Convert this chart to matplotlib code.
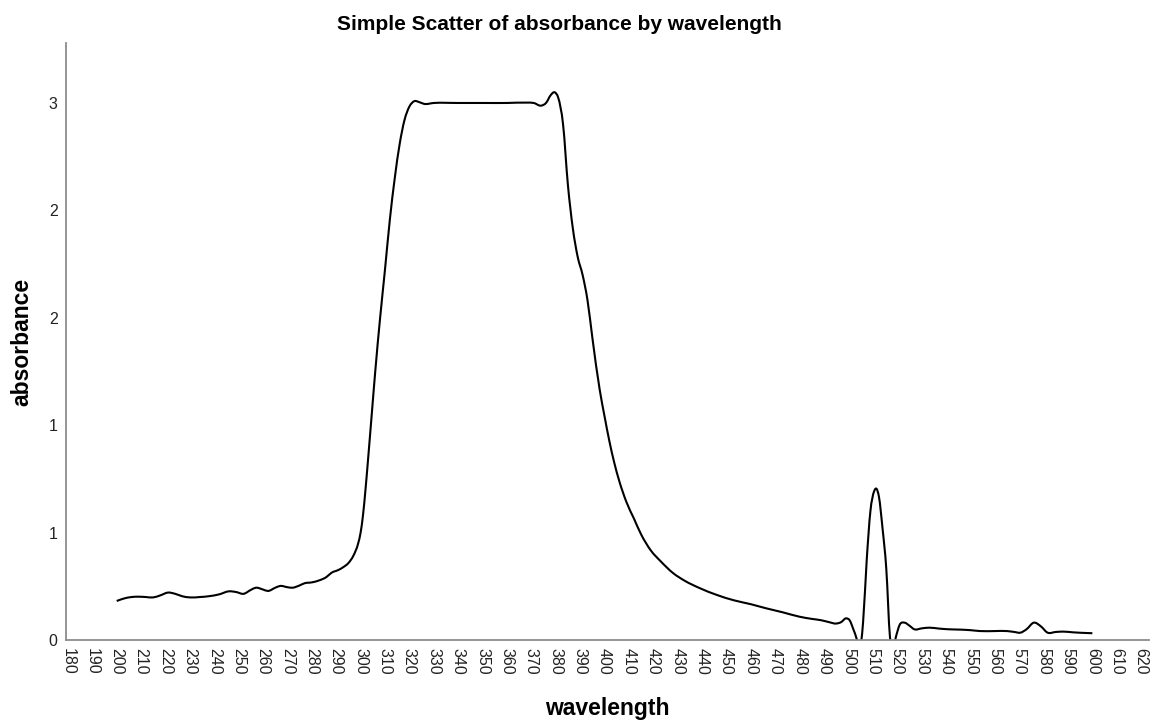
import matplotlib.pyplot as plt
from matplotlib.path import Path
from matplotlib.patches import PathPatch
import numpy as np

plt.rcParams['font.family'] = ['Liberation Sans', 'DejaVu Sans']

# absorbance spectrum
wavelength = [200, 203, 206, 209, 212, 215, 218, 221, 224, 227, 230, 234, 238, 242,
              246, 249, 252, 255, 257, 260, 262, 265, 267, 270, 272, 275, 277, 280,
              283, 286, 288, 291, 293, 295, 297, 299, 300, 301, 302, 303, 304.5, 306,
              308, 310, 312, 314, 316, 318, 320, 322, 324, 326, 330, 340, 350, 360,
              368, 371, 374, 376, 378, 379.5, 381, 383, 385, 387, 389, 391, 393, 395,
              398, 400, 402, 404, 406, 409, 412, 415, 419, 423, 428, 433, 439, 446,
              453, 460, 466, 473, 480, 485, 489, 492, 495, 497, 499, 500.5, 502,
              503.5, 504.5, 506, 507.5, 509, 510.5, 511.5, 512.5, 514, 515.5, 517,
              518, 519.5, 521, 523, 525, 527, 530, 533, 537, 541, 546, 550, 554, 560,
              565, 568, 570.5, 573, 576, 579, 581.5, 585, 588, 592, 596, 600]
absorbance = [0.218, 0.232, 0.240, 0.242, 0.240, 0.238, 0.250, 0.265, 0.258, 0.244,
              0.238, 0.240, 0.245, 0.255, 0.272, 0.268, 0.258, 0.280, 0.292, 0.282,
              0.274, 0.292, 0.302, 0.295, 0.292, 0.305, 0.317, 0.322, 0.333, 0.352,
              0.375, 0.392, 0.408, 0.430, 0.470, 0.540, 0.600, 0.700, 0.840, 1.000,
              1.250, 1.500, 1.800, 2.070, 2.350, 2.580, 2.770, 2.905, 2.980, 3.010,
              3.005, 2.995, 3.000, 3.000, 3.000, 3.000, 3.002, 3.000, 2.985, 3.000,
              3.045, 3.060, 3.030, 2.880, 2.540, 2.300, 2.140, 2.040, 1.900, 1.690,
              1.400, 1.250, 1.110, 0.990, 0.890, 0.770, 0.680, 0.590, 0.500, 0.440,
              0.375, 0.330, 0.290, 0.252, 0.222, 0.200, 0.178, 0.155, 0.130, 0.118,
              0.110, 0.100, 0.092, 0.100, 0.121, 0.110, 0.060, 0.000, -0.060, 0.100,
              0.450, 0.720, 0.830, 0.845, 0.800, 0.620, 0.400, 0.020, -0.060, 0.020,
              0.085, 0.097, 0.080, 0.060, 0.065, 0.069, 0.064, 0.060, 0.058, 0.055,
              0.050, 0.050, 0.050, 0.045, 0.041, 0.060, 0.097, 0.075, 0.042, 0.045,
              0.047, 0.043, 0.040, 0.038]

x_ticks = np.arange(180, 621, 10)
y_ticks = [0, 0.6, 1.2, 1.8, 2.4, 3.0]


def spline_path(x, y):
    # cubic Hermite through every point, written as Bezier segments
    x = np.asarray(x, float)
    y = np.asarray(y, float)
    h = np.diff(x)
    d = np.diff(y) / h
    m = np.empty_like(y)
    m[0], m[-1] = d[0], d[-1]
    m[1:-1] = (d[:-1] * h[1:] + d[1:] * h[:-1]) / (h[:-1] + h[1:])
    verts = [(x[0], y[0])]
    codes = [Path.MOVETO]
    for i in range(len(h)):
        verts += [(x[i] + h[i] / 3, y[i] + m[i] * h[i] / 3),
                  (x[i + 1] - h[i] / 3, y[i + 1] - m[i + 1] * h[i] / 3),
                  (x[i + 1], y[i + 1])]
        codes += [Path.CURVE4] * 3
    return Path(verts, codes)


fig = plt.figure(figsize=(11.53, 7.24), dpi=100)
ax = fig.add_axes([0.0572, 0.116, 0.9393, 0.8246])

curve = PathPatch(spline_path(wavelength, absorbance), facecolor='none',
                  edgecolor='black', lw=1.5, joinstyle='round')
ax.add_patch(curve)

ax.set_xlim(179.2, 623.2)
ax.set_ylim(0, 3.335)

ax.set_xticks(x_ticks)
ax.set_xticklabels([str(t) for t in x_ticks], rotation=-90, fontsize=11.5)
ax.set_yticks(y_ticks)
ax.set_yticklabels([f"{v:.0f}" for v in y_ticks], fontsize=11.5)
ax.tick_params(length=0, pad=6, colors='#222222')

for side in ['top', 'right']:
    ax.spines[side].set_visible(False)
for side in ['left', 'bottom']:
    ax.spines[side].set_color('#8c8c8c')
    ax.spines[side].set_linewidth(1.3)

ax.set_xlabel('wavelength', fontsize=16.5, fontweight='bold', labelpad=16)
ax.set_ylabel('absorbance', fontsize=16.5, fontweight='bold', labelpad=11)
fig.text(0.485, 0.966, 'Simple Scatter of absorbance by wavelength',
         ha='center', va='center', fontsize=15, fontweight='bold')

fig.savefig('out.png', dpi=100, facecolor='white')
